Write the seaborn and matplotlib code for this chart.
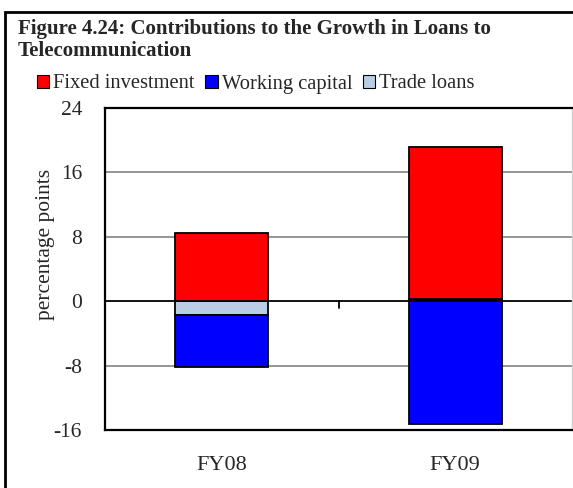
import numpy as np
import pandas as pd
import matplotlib
matplotlib.use("Agg")
import matplotlib.pyplot as plt
from matplotlib.patches import Rectangle
import seaborn as sns

# Contributions to growth (percentage points)
years = ["FY08", "FY09"]
fixed_investment = [8.5, 18.8]
working_capital = [-6.5, -15.3]
trade_loans = [-1.7, 0.3]

series_names = ["Fixed investment", "Working capital", "Trade loans"]
series_colors = ["#ff0000", "#0000ff", "#b9cde5"]
y_ticks = [-16, -8, 0, 8, 16, 24]

sns.set_theme(style="white")
plt.rcParams["font.family"] = ["Liberation Serif", "DejaVu Serif"]

fig = plt.figure(figsize=(5.73, 4.88), dpi=100)
ax = fig.add_axes([105 / 573, 58 / 488, 467 / 573, 322 / 488])

fixed = np.array(fixed_investment)
work = np.array(working_capital)
trade = np.array(trade_loans)

# stack positives upward and negatives downward from zero
trade_bottom = np.zeros_like(trade)
fixed_bottom = np.where(trade > 0, trade, 0.0)
work_bottom = np.where(trade < 0, trade, 0.0)

df = pd.DataFrame({"year": years})
for vals, bottoms, color in [
    (trade, trade_bottom, series_colors[2]),
    (fixed, fixed_bottom, series_colors[0]),
    (work, work_bottom, series_colors[1]),
]:
    sns.barplot(x=df["year"], y=vals, bottom=bottoms, color=color,
                width=0.40, edgecolor="black", linewidth=1.3,
                saturation=1, ax=ax, zorder=3)

ax.set_xlim(-0.5, 1.5)
ax.set_ylim(-16, 24)
ax.set_yticks(y_ticks)
ax.set_yticklabels([str(t) for t in y_ticks], fontsize=15.5)
ax.tick_params(axis="y", length=0, pad=16.5)
ax.tick_params(axis="x", length=0, pad=19, labelsize=16)
ax.set_xlabel("")
ax.set_ylabel("percentage points", fontsize=15.5)
ax.yaxis.set_label_coords(-0.108, 0.575)

for g in [-8, 8, 16]:
    ax.axhline(g, color="#8c8c8c", lw=1.3, zorder=1)
ax.axhline(0, color="black", lw=1.3, zorder=2)
# category separator tick on the zero line
ax.plot([0.5, 0.5], [0, -0.9], color="black", lw=1.3, zorder=2, clip_on=False)

for side in ["left", "top", "bottom"]:
    ax.spines[side].set_color("black")
    ax.spines[side].set_linewidth(1.6)
ax.spines["right"].set_color("#d0d0d0")
ax.spines["right"].set_linewidth(1.0)

# outer frame of the exhibit
fig.patches.append(Rectangle((5 / 573, -0.1), 1.2, 0.1 + (488 - 12) / 488,
                             transform=fig.transFigure, fill=False,
                             edgecolor="black", lw=2.0))

fig.text(18 / 573, 1 - 19 / 488,
         "Figure 4.24: Contributions to the Growth in Loans to\nTelecommunication",
         fontsize=15, fontweight="bold", va="top", ha="left",
         linespacing=1.12)

handles = [Rectangle((0, 0), 1, 1, facecolor=c, edgecolor="black", lw=0.8)
           for c in series_colors]
fig.legend(handles, series_names, loc="center left",
           bbox_to_anchor=(37 / 573, 1 - 84 / 488), ncol=3, frameon=False,
           fontsize=14.8, handlelength=0.6, handleheight=0.6,
           handletextpad=0.2, columnspacing=0.5, borderaxespad=0,
           borderpad=0)

fig.savefig("out.png", dpi=100)
